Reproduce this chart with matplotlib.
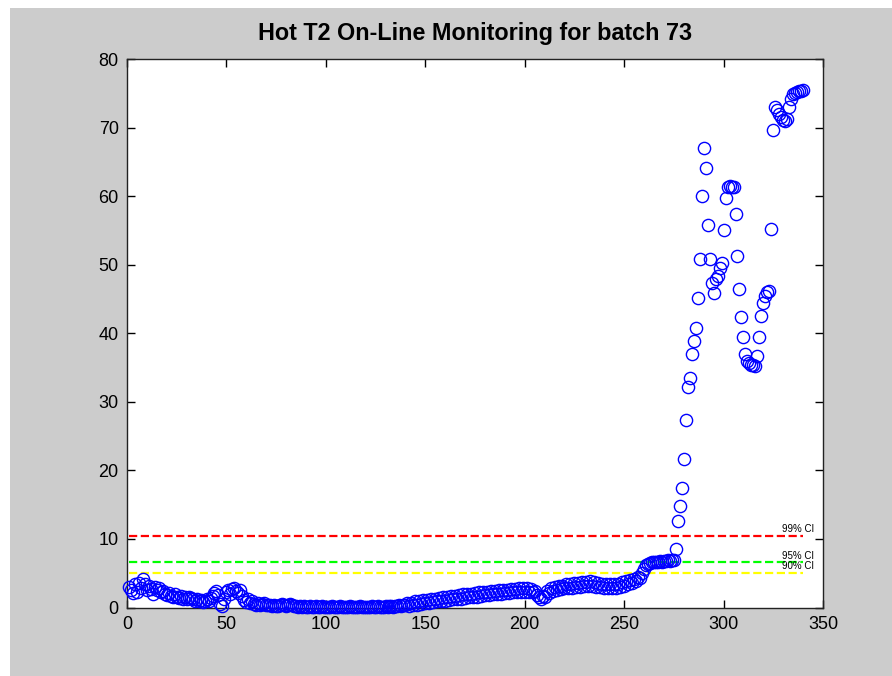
import numpy as np
import matplotlib
matplotlib.use("Agg")
import matplotlib.pyplot as plt
from matplotlib.patches import Rectangle

plt.rcParams['font.family'] = ['Liberation Sans Narrow', 'Liberation Sans', 'DejaVu Sans']

# Hotelling T2 statistic for batch 73, one value per sample
t2_start = [3.0, 2.6, 2.1, 3.4, 2.3, 3.6, 2.9, 4.1, 3.5, 2.5,
            3.1, 2.7, 1.9, 3.0, 2.6, 2.8, 2.2, 2.4, 2.0, 1.8,
            2.1, 1.7, 1.5, 1.9, 1.6, 1.4, 1.7, 1.3, 1.5, 1.2,
            1.6, 1.4, 1.2, 1.0, 1.3, 0.9, 1.1, 0.8, 1.0, 1.2,
            0.9, 1.4, 1.7, 2.1, 2.4, 1.8, 0.5, 0.2, 1.3, 2.2,
            2.6, 2.0, 2.7, 2.9, 2.4, 2.1, 2.5, 1.7, 1.1, 0.8]
t2_quiet = [1.3, 0.6, 0.9, 0.5, 0.4, 0.6, 0.3, 0.5, 0.6, 0.3,
            0.4, 0.3, 0.2, 0.3, 0.2, 0.2, 0.4, 0.5, 0.3, 0.2,
            0.3, 0.5, 0.4, 0.2, 0.2, 0.1, 0.2, 0.1, 0.2, 0.1,
            0.1, 0.2, 0.1, 0.1, 0.2, 0.1, 0.1, 0.2, 0.1, 0.1,
            0.1, 0.1, 0.2, 0.1, 0.1, 0.1, 0.2, 0.1, 0.1, 0.1,
            0.1, 0.2, 0.1, 0.1, 0.1, 0.1, 0.2, 0.1, 0.1, 0.1,
            0.1, 0.1, 0.2, 0.1, 0.1, 0.2, 0.1, 0.1, 0.1, 0.2,
            0.1, 0.2, 0.2, 0.1, 0.2, 0.2, 0.3, 0.2, 0.3, 0.3]
t2_drift = [0.6, 0.2, 0.7, 0.3, 0.9, 0.4, 1.0, 0.5, 1.1, 0.6,
            1.1, 0.7, 1.2, 0.8, 1.3, 0.9, 1.4, 0.9, 1.5, 1.0,
            1.6, 1.1, 1.7, 1.2, 1.7, 1.2, 1.8, 1.3, 1.9, 1.4,
            1.9, 1.5, 2.0, 1.5, 2.1, 1.6, 2.2, 1.7, 2.2, 1.8,
            2.3, 1.8, 2.4, 1.9, 2.4, 2.0, 2.5, 2.0, 2.6, 2.1,
            2.6, 2.1, 2.7, 2.2, 2.7, 2.2, 2.8, 2.3, 2.8, 2.3,
            2.8, 2.3, 2.7, 2.2, 2.4, 1.8, 1.6, 1.3, 1.7, 1.6,
            2.4, 2.1, 2.8, 2.4, 3.0, 2.6, 3.1, 2.7, 3.2, 2.8,
            3.4, 2.9, 3.5, 2.9, 3.6, 3.0, 3.6, 3.0, 3.7, 3.1,
            3.7, 3.1, 3.8, 3.2, 3.7, 3.0, 3.6, 3.0, 3.5, 2.9,
            3.5, 2.8, 3.4, 2.8, 3.5, 2.9, 3.5, 3.0, 3.7, 3.2,
            3.9, 3.4, 4.0, 3.6, 4.2, 3.8, 4.5, 4.3, 5.1, 5.6,
            6.2, 6.4, 6.5, 6.6, 6.6, 6.7, 6.6, 6.8, 6.7, 6.8,
            6.8, 6.9, 6.8, 6.9, 7.0]
t2_fault = [8.5, 12.6, 14.8, 17.5, 21.7, 27.4, 32.1, 33.5, 37.0, 38.8,
            40.7, 45.2, 50.9, 60.0, 67.0, 64.1, 55.8, 50.9, 47.4, 45.8,
            47.9, 48.4, 49.5, 50.3, 55.0, 59.7, 61.3, 61.5, 61.4, 61.3,
            57.4, 51.2, 46.5, 42.3, 39.5, 37.0, 35.9, 35.6, 35.4, 35.3,
            35.2, 36.7, 39.5, 42.5, 44.4, 45.5, 46.0, 46.1, 55.2, 69.6,
            73.0, 72.6, 72.0, 71.5, 71.1, 71.0, 71.3, 73.0, 74.2, 74.9,
            75.1, 75.2, 75.3, 75.4, 75.5]

t2 = np.array(t2_start + t2_quiet + t2_drift + t2_fault)
samples = np.arange(1, len(t2) + 1)

# control limits
ci_levels = [10.4, 6.6, 5.1]
ci_labels = ['99% CI', '95% CI', '90% CI']
ci_colors = ['#ff0000', '#00ff00', '#ffff00']

x_ticks = [0, 50, 100, 150, 200, 250, 300, 350]
y_ticks = [0, 10, 20, 30, 40, 50, 60, 70, 80]

W, H = 892, 676
fig = plt.figure(figsize=(W / 100, H / 100), dpi=100)
fig.patch.set_facecolor('white')
fig.add_artist(Rectangle((10 / W, 0), 1, (H - 8) / H, transform=fig.transFigure,
                         facecolor='#cccccc', edgecolor='none', zorder=-1))

ax = fig.add_axes([127 / W, (H - 607.5) / H, (823 - 127) / W, (607.5 - 59) / H])
ax.set_facecolor('white')

for lvl, col in zip(ci_levels, ci_colors):
    ax.plot([samples[0], samples[-1]], [lvl, lvl], linestyle='--', color=col,
            linewidth=1.6, zorder=2)

ax.plot(samples, t2, linestyle='none', marker='o', markersize=8.8,
        markerfacecolor='none', markeredgecolor='#0000ff', markeredgewidth=1.0,
        clip_on=False, zorder=3)

# small labels just above each limit line
for lvl, lab in zip(ci_levels, ci_labels):
    ax.text(329.5, lvl + 0.25, lab, fontsize=7, ha='left', va='bottom',
            color='black', zorder=4, clip_on=False)

ax.set_xlim(0, 350)
ax.set_ylim(0, 80)
ax.set_xticks(x_ticks)
ax.set_yticks(y_ticks)
ax.tick_params(direction='in', length=6, width=1, top=True, right=True,
               labelsize=13, pad=6, colors='black')
for sp in ax.spines.values():
    sp.set_linewidth(1.0)
    sp.set_color('#222222')

ax.set_title('Hot T2 On-Line Monitoring for batch 73', fontsize=16.8,
             fontweight='bold', family=['Liberation Sans', 'DejaVu Sans'], pad=14)

plt.savefig('out.png', dpi=100, facecolor=fig.get_facecolor())
